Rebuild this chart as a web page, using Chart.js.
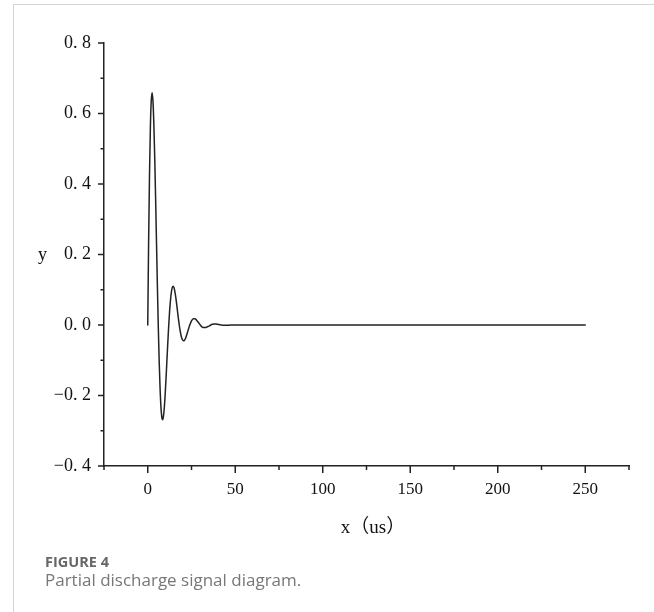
<!DOCTYPE html>
<html>
<head>
<meta charset="utf-8">
<script src="https://cdn.jsdelivr.net/npm/chart.js@4.4.1/dist/chart.umd.min.js"></script>
<style>
  html, body { margin: 0; padding: 0; background: #fff; }
  .page { position: relative; width: 654px; height: 612px; overflow: hidden; }
  .frame { position: absolute; left: 13px; top: 4px; right: -2px; bottom: -2px;
           border-left: 1px solid #d4d4d4; border-top: 1px solid #d4d4d4; }
  canvas { position: absolute; left: 0; top: 0; }
  .ylab { position: absolute; left: 38px; top: 244px; font: 18px "Liberation Serif", serif; color: #111; }
  .xlab { position: absolute; left: 273px; width: 200px; top: 511px; text-align: center;
          font: 19px "Liberation Serif", "Noto Sans CJK SC", serif; color: #111; }
  .fig { position: absolute; left: 45px; top: 552px; font: bold 14.5px "Open Sans", sans-serif; color: #676767; }
  .cap { position: absolute; left: 45px; top: 568px; font: 17px "Open Sans", sans-serif; color: #777; }
</style>
</head>
<body>
<div class="page">
  <div class="frame"></div>
  <canvas id="signalChart" width="654" height="612"></canvas>
  <div class="ylab">y</div>
  <div class="xlab">x（us）</div>
  <div class="fig">FIGURE 4</div>
  <div class="cap">Partial discharge signal diagram.</div>
</div>
<script>
// time in us
const timeUs = [
  0, 0.5, 1, 1.5, 2, 2.5, 3, 3.5, 4, 4.5, 5, 5.5, 6, 6.5, 7, 7.5, 8, 8.5, 9, 9.5,
  10, 10.5, 11, 11.5, 12, 12.5, 13, 13.5, 14, 14.5, 15, 15.5, 16, 16.5, 17, 17.5,
  18, 18.5, 19, 19.5, 20, 20.5, 21, 21.5, 22, 22.5, 23, 23.5, 24,
  25, 26, 27, 28, 29, 30, 31, 32, 33, 34, 35, 36, 37, 38, 39, 40, 41, 42, 43, 44,
  45, 46, 47, 48, 50, 100, 150, 200, 250
];
const signal = [
  0, 0.238, 0.426, 0.560, 0.636, 0.659, 0.633, 0.567, 0.472, 0.358, 0.235, 0.113, 0, -0.097, -0.174, -0.229, -0.260, -0.269, -0.258, -0.232,
  -0.193, -0.146, -0.096, -0.046, 0, 0.040, 0.071, 0.093, 0.106, 0.110, 0.106, 0.095, 0.079, 0.060, 0.039, 0.019,
  0, -0.016, -0.029, -0.038, -0.043, -0.045, -0.043, -0.039, -0.032, -0.024, -0.016, -0.008, 0,
  0.012, 0.018, 0.018, 0.013, 0.007, 0, -0.005, -0.007, -0.007, -0.005, -0.003, 0, 0.002, 0.003, 0.003, 0.002, 0.001, 0, -0.001, -0.001,
  -0.001, -0.001, 0, 0, 0, 0, 0, 0, 0
];
const xMin = -25, xMax = 275, xStep = 25;
const xLabels = [0, 50, 100, 150, 200, 250];
const yMin = -0.4, yMax = 0.8, yStep = 0.1;
const yLabels = [-0.4, -0.2, 0, 0.2, 0.4, 0.6, 0.8];

function fmtY(v) {
  return v.toFixed(1).replace('.', '. ').replace('-', '\u2212');
}

// short outward tick marks, longer at the labelled values
const tickMarks = {
  id: 'tickMarks',
  afterDraw(chart) {
    const ctx = chart.ctx;
    const area = chart.chartArea;
    const xs = chart.scales.x, ys = chart.scales.y;
    ctx.save();
    ctx.strokeStyle = '#222';
    ctx.lineWidth = 1.5;
    ys.ticks.forEach(t => {
      const py = ys.getPixelForValue(t.value);
      const major = yLabels.some(l => Math.abs(l - t.value) < 1e-6);
      const len = major ? 6 : 3.5;
      ctx.beginPath();
      ctx.moveTo(area.left - len, py);
      ctx.lineTo(area.left, py);
      ctx.stroke();
    });
    xs.ticks.forEach(t => {
      const px = xs.getPixelForValue(t.value);
      const major = xLabels.includes(Math.round(t.value));
      const len = major ? 7 : 4;
      ctx.beginPath();
      ctx.moveTo(px, area.bottom);
      ctx.lineTo(px, area.bottom + len);
      ctx.stroke();
    });
    ctx.restore();
  }
};

document.addEventListener('DOMContentLoaded', function() {
  const ctx = document.getElementById('signalChart').getContext('2d');
  new Chart(ctx, {
    type: 'line',
    data: {
      datasets: [{
        data: timeUs.map((t, i) => ({ x: t, y: signal[i] })),
        borderColor: '#222',
        borderWidth: 1.5,
        borderJoinStyle: 'round',
        borderCapStyle: 'round',
        cubicInterpolationMode: 'monotone', // also keeps the dense points from the fast path
        pointRadius: 0,
        fill: false
      }]
    },
    options: {
      responsive: false,
      animation: false,
      devicePixelRatio: 1,
      layout: { padding: { left: 0, top: 43, right: 25, bottom: 0 } },
      plugins: { legend: { display: false }, tooltip: { enabled: false } },
      scales: {
        x: {
          type: 'linear',
          min: xMin,
          max: xMax,
          afterFit: scale => { scale.height = 146; },
          grid: { display: false, drawTicks: false },
          border: { display: true, color: '#222', width: 1.5 },
          ticks: {
            stepSize: xStep,
            autoSkip: false,
            maxRotation: 0,
            padding: 13,
            color: '#111',
            font: { family: '"Liberation Serif", serif', size: 17 },
            callback: v => xLabels.includes(Math.round(v)) ? String(Math.round(v)) : ''
          }
        },
        y: {
          min: yMin,
          max: yMax,
          afterFit: scale => { scale.width = 104; },
          grid: { display: false, drawTicks: false },
          border: { display: true, color: '#222', width: 1.5 },
          ticks: {
            stepSize: yStep,
            autoSkip: false,
            padding: 13,
            color: '#111',
            font: { family: '"Liberation Serif", serif', size: 18 },
            callback: v => {
              const hit = yLabels.find(l => Math.abs(l - v) < 1e-6);
              return hit === undefined ? '' : fmtY(hit);
            }
          }
        }
      }
    },
    plugins: [tickMarks]
  });
});
</script>
</body>
</html>
